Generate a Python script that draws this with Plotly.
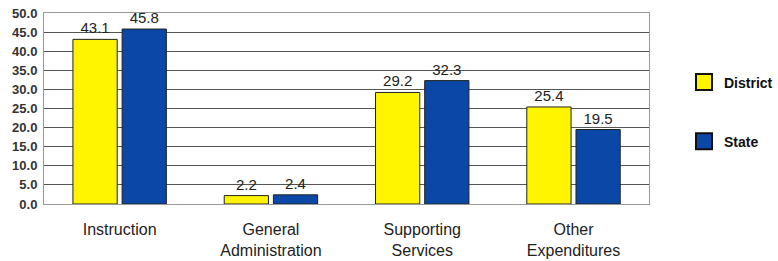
import plotly.graph_objects as go

categories = ["Instruction", "General<br>Administration", "Supporting<br>Services", "Other<br>Expenditures"]
district = [43.1, 2.2, 29.2, 25.4]
state = [45.8, 2.4, 32.3, 19.5]
tick_vals = [0, 5, 10, 15, 20, 25, 30, 35, 40, 45, 50]
series_names = ["District", "State"]

YELLOW = "#FFF500"
BLUE = "#0B47A6"
colors = [YELLOW, BLUE]

fig = go.Figure()
for name, vals, col in zip(series_names, [district, state], colors):
    fig.add_trace(go.Bar(
        x=categories, y=vals, name=name,
        marker=dict(color=col, line=dict(color="#222", width=1)),
        text=[f"{v:.1f}" for v in vals], textposition="outside",
        textfont=dict(size=15, color="#222", family="Liberation Sans"),
        cliponaxis=False, showlegend=False,
    ))

# legend entries (larger square swatches)
for i, (name, col) in enumerate(zip(series_names, colors)):
    fig.add_trace(go.Scatter(
        x=[None], y=[None], mode="markers", name=name,
        marker=dict(symbol="square", size=16, color=col, line=dict(color="#111", width=2)),
        legendgroup=f"g{i}", showlegend=True,
    ))

fig.update_layout(
    width=778, height=261, autosize=False,
    margin=dict(l=44, r=0, t=13, b=57),
    paper_bgcolor="white", plot_bgcolor="white",
    barmode="group", bargap=0.35, bargroupgap=0.1,
    font=dict(family="Liberation Sans", color="#222"),
    showlegend=True,
    legend=dict(
        x=0.873, y=0.72, xanchor="left", yanchor="top",
        font=dict(size=14, family="Liberation Sans", color="#111", weight="bold"),
        tracegroupgap=38, traceorder="grouped",
        bgcolor="rgba(0,0,0,0)",
    ),
    xaxis=dict(
        domain=[0, 0.8256],
        automargin=False,
        showgrid=False, showline=True, linecolor="#999", mirror=True,
        tickfont=dict(size=16, family="Liberation Sans", color="#222"),
        ticks="outside", ticklen=11, tickcolor="rgba(0,0,0,0)",
    ),
    yaxis=dict(
        automargin=False,
        range=[0, 50], tickvals=tick_vals, tickformat=".1f",
        showgrid=True, gridcolor="#555", gridwidth=1,
        showline=True, linecolor="#999", mirror=True,
        tickfont=dict(size=13, family="Liberation Sans", color="#333", weight="bold"),
        zeroline=True, zerolinecolor="#333", zerolinewidth=1,
        ticks="outside", ticklen=3, tickcolor="rgba(0,0,0,0)",
    ),
)

fig.write_html(
    "out.html",
    config={"responsive": False, "displayModeBar": False},
    post_script="document.body.style.margin='0';",
)
